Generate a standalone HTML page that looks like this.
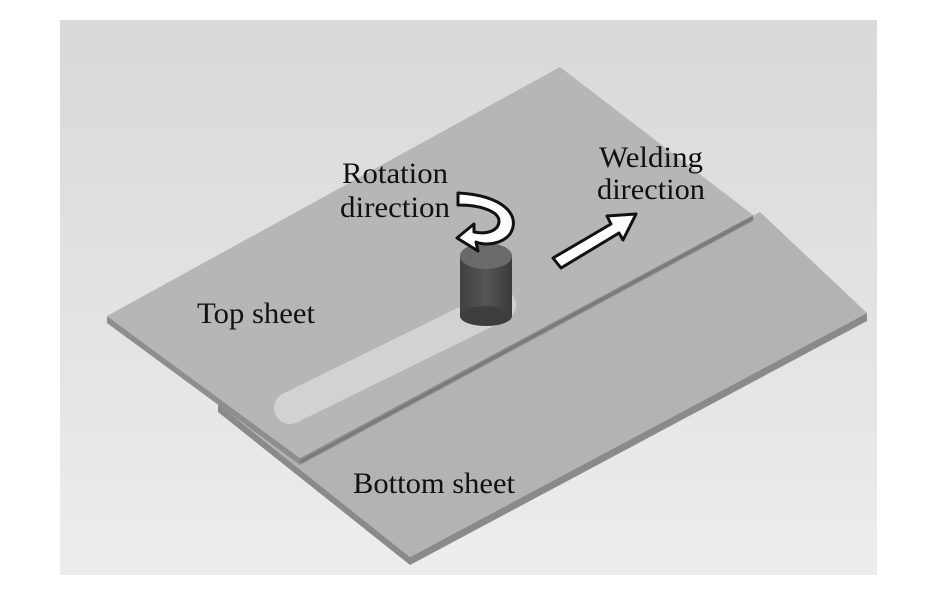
<!DOCTYPE html>
<html><head><meta charset="utf-8"><style>
html,body{margin:0;padding:0;background:#fff;width:935px;height:615px;overflow:hidden}
svg{display:block}
text{font-family:"Liberation Serif",serif;fill:#111}
</style></head><body>
<svg width="935" height="615" viewBox="0 0 935 615">
<defs>
<linearGradient id="bg" x1="0" y1="0" x2="0" y2="1">
<stop offset="0" stop-color="#d9d9d9"/><stop offset="0.6" stop-color="#e4e4e4"/><stop offset="1" stop-color="#ededed"/>
</linearGradient>
<linearGradient id="cyl" x1="0" y1="0" x2="1" y2="0">
<stop offset="0" stop-color="#404040"/><stop offset="0.5" stop-color="#555"/><stop offset="1" stop-color="#3a3a3a"/>
</linearGradient>
</defs>
<rect x="60" y="20" width="817" height="555" fill="url(#bg)"/>
<rect x="60" y="523" width="817" height="52" fill="#ececec"/>
<polygon points="218,404 410,557 867,313 867,321 410,565 218,412" fill="#8a8a8a"/>
<polygon points="218,404 300,458 760,212 867,313 410,557" fill="#b3b3b3"/>
<polygon points="107,316 300,458 753,215 753,221 300,465 107,323" fill="#8e8e8e"/>
<polygon points="107,316 560,67 753,215 300,458" fill="#b6b6b6"/>
<line x1="300" y1="462" x2="753" y2="218" stroke="#7a7a7a" stroke-width="3"/>
<line x1="290" y1="408" x2="500" y2="305" stroke="#d2d2d2" stroke-width="32" stroke-linecap="round"/>
<rect x="460" y="256" width="52" height="60" fill="url(#cyl)"/>
<ellipse cx="486" cy="316" rx="26" ry="10" fill="#3e3e3e"/>
<ellipse cx="486" cy="256" rx="26" ry="13" fill="#6a6a6a"/>
<path d="M458,193 C502,195 522,215 510,234 C502,244 486,246 476,242 L478,251 L457,238 L474,224 L474,232 C490,235 499,229 499,221 C499,212 482,205 458,205 Z" fill="#fff" stroke="#111" stroke-width="3" stroke-linejoin="round"/>
<polygon points="553,258 611,224 607,216 636,214 623,240 619,233 561,268" fill="#fff" stroke="#111" stroke-width="3" stroke-linejoin="round"/>
<text x="395" y="183" font-size="30" text-anchor="middle" textLength="106" lengthAdjust="spacingAndGlyphs">Rotation</text>
<text x="395" y="217" font-size="30" text-anchor="middle" textLength="110" lengthAdjust="spacingAndGlyphs">direction</text>
<text x="651" y="167" font-size="30" text-anchor="middle" textLength="104" lengthAdjust="spacingAndGlyphs">Welding</text>
<text x="651" y="199" font-size="30" text-anchor="middle" textLength="108" lengthAdjust="spacingAndGlyphs">direction</text>
<text x="197" y="323" font-size="30" textLength="118" lengthAdjust="spacingAndGlyphs">Top sheet</text>
<text x="353" y="493" font-size="30" textLength="162" lengthAdjust="spacingAndGlyphs">Bottom sheet</text>
</svg>
</body></html>
